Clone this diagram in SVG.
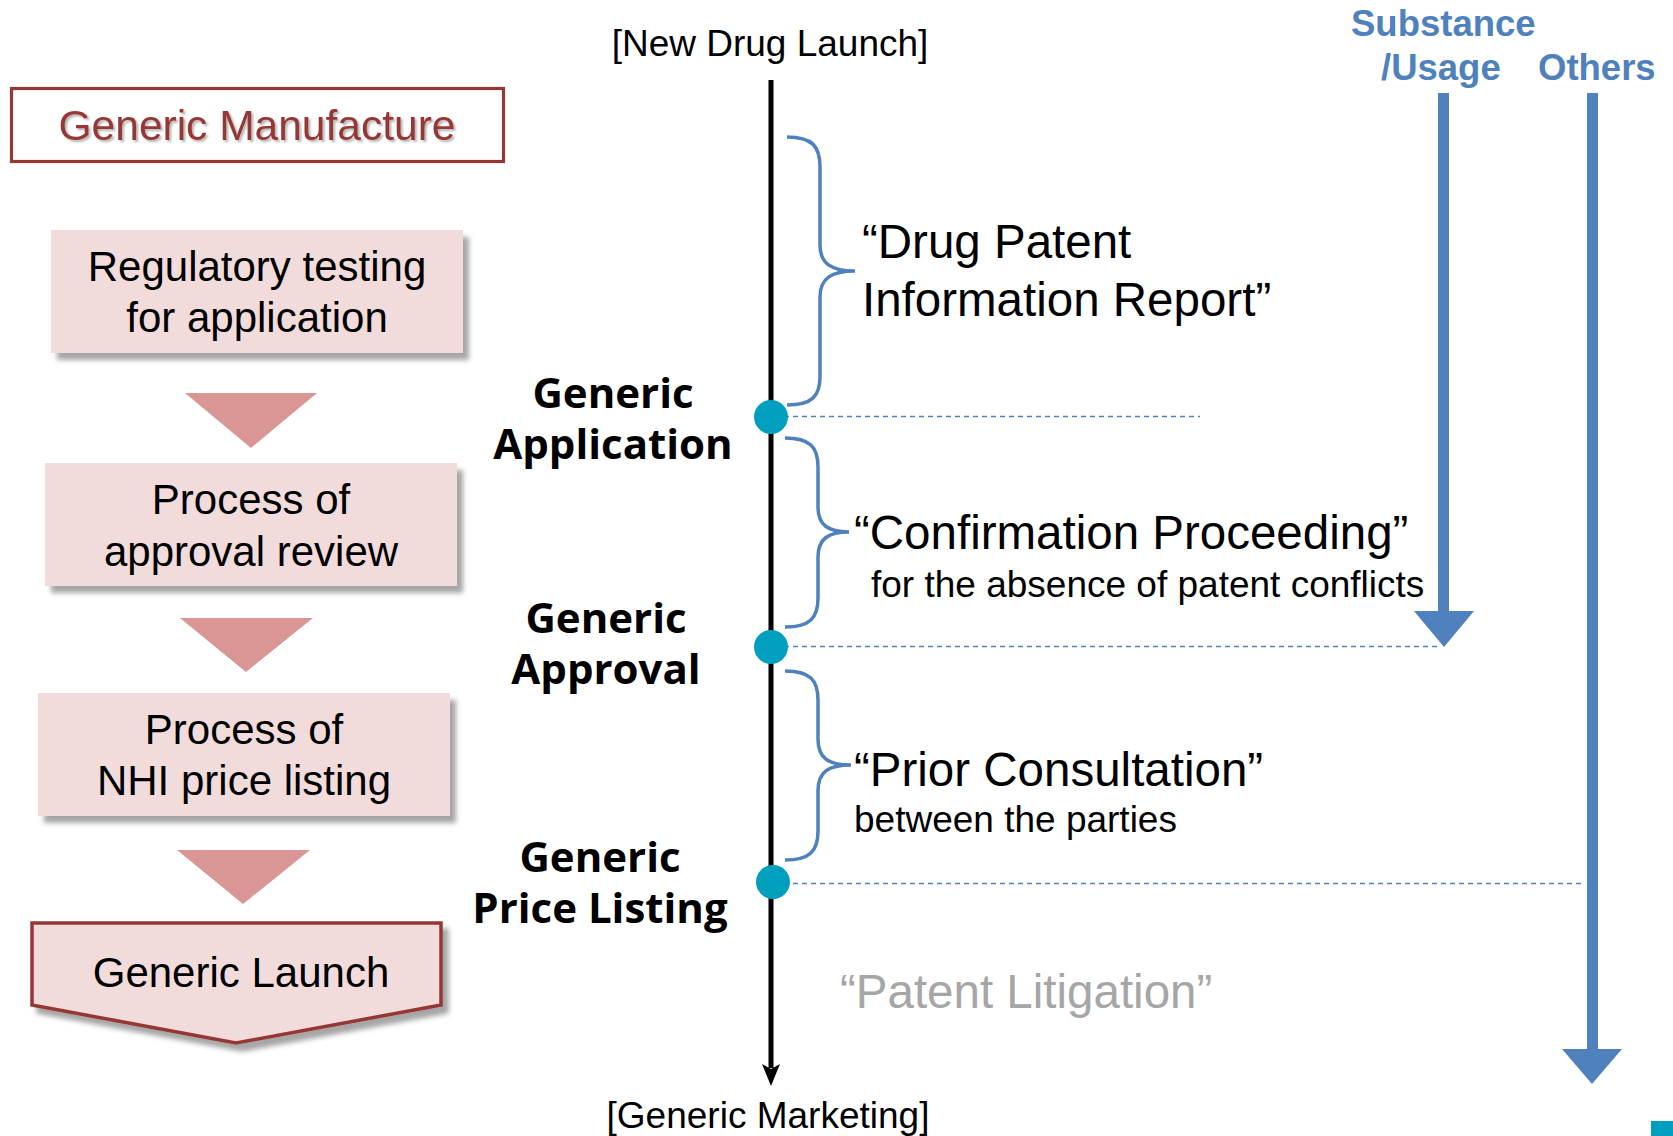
<svg xmlns="http://www.w3.org/2000/svg" width="1673" height="1136" viewBox="0 0 1673 1136">
  <defs>
    <filter id="boxShadow" x="-10%" y="-10%" width="130%" height="140%">
      <feDropShadow dx="6" dy="7" stdDeviation="2.5" flood-color="#000" flood-opacity="0.35"/>
    </filter>
    <filter id="textShadow" x="-5%" y="-20%" width="110%" height="150%">
      <feDropShadow dx="2" dy="2" stdDeviation="1.2" flood-color="#000" flood-opacity="0.3"/>
    </filter>
  </defs>
  <style>
    .sans { font-family: "Liberation Sans", Arial, sans-serif; }
    .step { fill: #F2DCDB; filter: url(#boxShadow); }
    .stepText { font-family: "Liberation Sans", Arial, sans-serif; font-size: 42px; fill: #000; text-anchor: middle; }
    .tri { fill: #D99694; }
    .milestone { font-family: "Open Sans", "Noto Sans", sans-serif; font-weight: 700; font-size: 42px; fill: #000; text-anchor: middle; }
    .dot { fill: #009FBD; }
    .brace { fill: none; stroke: #4F81BD; stroke-width: 3.5; }
    .guide { stroke: #4F81BD; stroke-width: 1.5; stroke-dasharray: 5 4; fill: none; }
    .big { font-family: "Liberation Sans", Arial, sans-serif; font-size: 47.5px; fill: #000; }
    .small { font-family: "Liberation Sans", Arial, sans-serif; font-size: 37px; fill: #000; }
    .end { font-family: "Liberation Sans", Arial, sans-serif; font-size: 37px; fill: #000; text-anchor: middle; }
    .cat { font-family: "Liberation Sans", Arial, sans-serif; font-weight: 700; font-size: 36.5px; fill: #4F81BD; }
    .flow { fill: #4F81BD; }
  </style>

  <!-- left column: manufacturer steps -->
  <g id="generic-manufacture">
    <rect x="11.5" y="88.5" width="492" height="73" fill="#fff" stroke="#953735" stroke-width="3.2"/>
    <text x="257" y="140" class="sans" font-size="42.5" fill="#953735" text-anchor="middle" filter="url(#textShadow)">Generic Manufacture</text>
  </g>

  <g id="regulatory-testing">
    <rect x="51" y="230" width="412" height="123" class="step"/>
    <text class="stepText"><tspan x="257" y="281">Regulatory testing</tspan><tspan x="257" y="332">for application</tspan></text>
  </g>

  <g id="approval-review">
    <rect x="45" y="463" width="412" height="123" class="step"/>
    <text class="stepText"><tspan x="251" y="514">Process of</tspan><tspan x="251" y="566">approval review</tspan></text>
  </g>

  <g id="price-listing">
    <rect x="38" y="693" width="412" height="123" class="step"/>
    <text class="stepText"><tspan x="244" y="744">Process of</tspan><tspan x="244" y="795">NHI price listing</tspan></text>
  </g>

  <g id="generic-launch">
    <polygon points="32,923 441,923 441,1005 236,1043 32,1005" fill="#F2DCDB" stroke="#953735" stroke-width="3.5" stroke-linejoin="miter" filter="url(#boxShadow)"/>
    <text x="241" y="987" class="stepText">Generic Launch</text>
  </g>

  <!-- step-to-step chevrons -->
  <g id="step-arrows">
    <polygon class="tri" points="185,393 317,393 251,448"/>
    <polygon class="tri" points="180,618 313,618 246,672"/>
    <polygon class="tri" points="177,850 310,850 243,904"/>
  </g>

  <!-- timeline, guides and patent category arrows -->
  <g id="connectors">
    <line x1="771" y1="80" x2="771" y2="1068" stroke="#000" stroke-width="5"/>
    <polygon points="762,1064 771,1086 780,1064 771,1069" fill="#000"/>

    <line class="guide" x1="775" y1="416.5" x2="1200" y2="416.5"/>
    <line class="guide" x1="775" y1="646.5" x2="1440" y2="646.5"/>
    <line class="guide" x1="775" y1="883.5" x2="1582" y2="883.5"/>

    <path class="brace" d="M787 137 C812 137 820 146 820 167 L820 245 C820 264 832 271 855 271 C832 271 820 278 820 297 L820 377 C820 396 812 405 787 405"/>
    <path class="brace" d="M785 438 C810 438 818 447 818 467 L818 507 C818 525 828 532 849 532 C828 532 818 539 818 557 L818 598 C818 618 810 627 785 627"/>
    <path class="brace" d="M785 671 C810 671 818 680 818 700 L818 739 C818 758 828 765 851 765 C828 765 818 772 818 791 L818 831 C818 851 810 860 785 860"/>

    <rect class="flow" x="1438" y="93" width="11" height="520"/>
    <polygon class="flow" points="1414,611 1474,611 1444,647"/>
    <rect class="flow" x="1587" y="93" width="11" height="958"/>
    <polygon class="flow" points="1562,1049 1622,1049 1592,1084"/>
  </g>

  <!-- timeline milestones -->
  <g id="new-drug-launch">
    <text x="770" y="56" class="end">[New Drug Launch]</text>
  </g>
  <g id="generic-application">
    <circle class="dot" cx="771" cy="417" r="17"/>
    <text class="milestone"><tspan x="613" y="408">Generic</tspan><tspan x="613" y="459">Application</tspan></text>
  </g>
  <g id="generic-approval">
    <circle class="dot" cx="771" cy="647" r="17"/>
    <text class="milestone"><tspan x="606" y="633">Generic</tspan><tspan x="606" y="684">Approval</tspan></text>
  </g>
  <g id="generic-price-listing">
    <circle class="dot" cx="773" cy="882" r="17"/>
    <text class="milestone"><tspan x="600" y="872">Generic</tspan><tspan x="600" y="923">Price Listing</tspan></text>
  </g>
  <g id="generic-marketing">
    <text x="768" y="1128" class="end">[Generic Marketing]</text>
  </g>

  <!-- procedures between milestones -->
  <g id="patent-information-report">
    <text class="big"><tspan x="862" y="258">“Drug Patent</tspan><tspan x="862" y="316">Information Report”</tspan></text>
  </g>
  <g id="confirmation-proceeding">
    <text x="854" y="549" class="big">“Confirmation Proceeding”</text>
    <text x="871" y="597" class="small">for the absence of patent conflicts</text>
  </g>
  <g id="prior-consultation">
    <text x="854" y="786" class="big">“Prior Consultation”</text>
    <text x="854" y="832" class="small">between the parties</text>
  </g>
  <g id="patent-litigation">
    <text x="840" y="1008" class="big" style="fill:#A6A6A6">“Patent Litigation”</text>
  </g>

  <!-- patent categories -->
  <g id="substance-usage">
    <text class="cat"><tspan x="1351" y="36">Substance</tspan><tspan x="1381" y="80">/Usage</tspan></text>
  </g>
  <g id="others">
    <text x="1538" y="80" class="cat">Others</text>
  </g>

  <rect x="1651" y="1121" width="22" height="15" fill="#009FBD"/>
</svg>
